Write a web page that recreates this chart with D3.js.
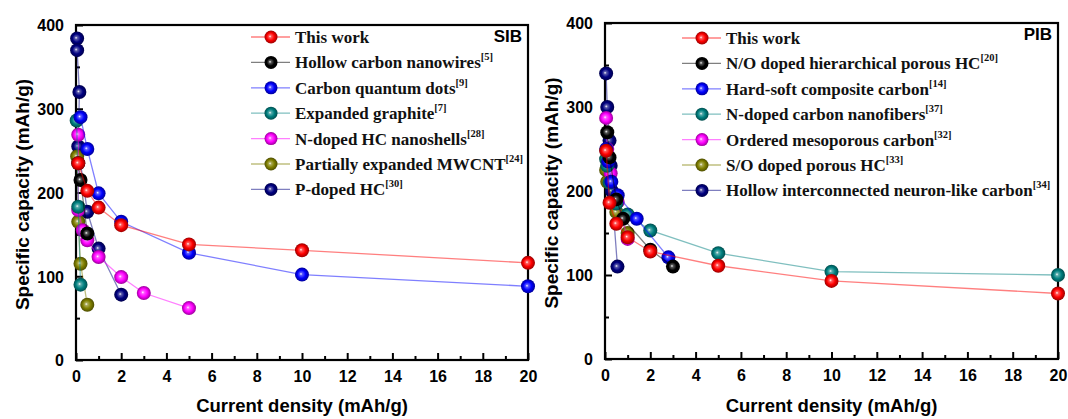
<!DOCTYPE html>
<html>
<head>
<meta charset="utf-8">
<script src="https://cdn.jsdelivr.net/npm/d3@7"></script>
<style>
  body { margin: 0; background: #fff; }
  svg { display: block; }
</style>
</head>
<body>
<div id="chart"></div>
<script>
// series colours, shared by both panels
const seriesColors = ["#ff0000", "#000000", "#0000ff", "#008080", "#ff00ff", "#808000", "#000080"];

// SIB panel
const sibNames = ["This work", "Hollow carbon nanowires", "Carbon quantum dots", "Expanded graphite",
                  "N-doped HC nanoshells", "Partially expanded MWCNT", "P-doped HC"];
const sibRefs = ["", "5", "9", "7", "28", "24", "30"];
const sibX = [
  [0.1, 0.5, 1, 2, 5, 10, 20],
  [0.1, 0.2, 0.5],
  [0.2, 0.5, 1, 2, 5, 10, 20],
  [0.03, 0.1, 0.2],
  [0.1, 0.1, 0.3, 0.5, 1, 2, 3, 5],
  [0.05, 0.1, 0.2, 0.5],
  [0.05, 0.05, 0.15, 0.1, 0.5, 1, 2]
];
const sibY = [
  [235, 202, 182, 161, 138, 131, 116],
  [235, 215, 151],
  [290, 252, 199, 165, 128, 102, 88],
  [286, 183, 90],
  [269, 179, 155, 143, 123, 99, 80, 62],
  [243, 165, 115, 66],
  [384, 370, 320, 255, 177, 133, 78]
];

// PIB panel
const pibNames = ["This work", "N/O doped hierarchical porous HC", "Hard-soft composite carbon",
                  "N-doped carbon nanofibers", "Ordered mesoporous carbon", "S/O doped porous HC",
                  "Hollow interconnected neuron-like carbon"];
const pibRefs = ["", "20", "14", "37", "32", "33", "34"];
const pibX = [
  [0.05, 0.2, 0.5, 1, 2, 5, 10, 20],
  [0.1, 0.2, 0.5, 0.8, 2, 3],
  [0.056, 0.14, 0.28, 0.56, 1.4, 2.8],
  [0.05, 0.1, 0.2, 0.5, 1, 2, 5, 10, 20],
  [0.05, 0.1, 0.25, 0.56, 1],
  [0.05, 0.1, 0.5, 1],
  [0.05, 0.1, 0.2, 0.25, 0.3, 0.55]
];
const pibY = [
  [248, 186, 161, 145, 128, 111, 93, 78],
  [270, 240, 190, 167, 130, 110],
  [250, 235, 211, 195, 167, 121],
  [238, 230, 210, 185, 172, 153, 126, 104, 100],
  [287, 250, 221, 187, 143],
  [225, 211, 175, 150],
  [340, 300, 260, 230, 200, 110]
];

const xTicks = [0, 2, 4, 6, 8, 10, 12, 14, 16, 18, 20];
const yTicks = [0, 100, 200, 300, 400];

const W = 1068, H = 419;
const svg = d3.select("#chart").append("svg").attr("width", W).attr("height", H);
const defs = svg.append("defs");

seriesColors.forEach((c, i) => {
  const g = defs.append("radialGradient").attr("id", "ball" + i)
    .attr("cx", "50%").attr("cy", "50%").attr("r", "50%")
    .attr("fx", "42%").attr("fy", "45%");
  g.append("stop").attr("offset", "0%").attr("stop-color", "#ffffff");
  g.append("stop").attr("offset", "20%").attr("stop-color", d3.interpolateRgb(c, "#ffffff")(0.35));
  g.append("stop").attr("offset", "58%").attr("stop-color", c);
  g.append("stop").attr("offset", "100%").attr("stop-color", d3.interpolateRgb(c, "#000000")(0.4));
});

const sans = "'Liberation Sans', Arial, sans-serif";
const serif = "'Liberation Serif', 'Times New Roman', serif";

function drawPanel(p) {
  const x = d3.scaleLinear().domain([0, 20]).range([p.left, p.right]);
  const y = d3.scaleLinear().domain([0, 400]).range([p.bottom, p.top]);
  const g = svg.append("g");

  // axes with inward ticks
  const xAxis = g.append("g").attr("transform", "translate(0," + p.bottom + ")")
    .call(d3.axisBottom(x).tickValues(xTicks).tickSize(-7).tickPadding(14).tickFormat(d3.format("d")));
  g.append("g").attr("transform", "translate(0," + p.bottom + ")")
    .call(d3.axisBottom(x).tickValues(d3.range(1, 20, 2)).tickSize(-4).tickFormat(""));
  const yAxis = g.append("g").attr("transform", "translate(" + p.left + ",0)")
    .call(d3.axisLeft(y).tickValues(yTicks).tickSize(-7).tickPadding(12));
  g.append("g").attr("transform", "translate(" + p.left + ",0)")
    .call(d3.axisLeft(y).tickValues([50, 150, 250, 350]).tickSize(-4).tickFormat(""));
  g.selectAll(".domain").remove();
  g.selectAll(".tick line").attr("stroke", "#000").attr("stroke-width", 2);
  g.selectAll(".tick text").attr("font-family", sans).attr("font-weight", "bold")
    .attr("font-size", 16).attr("fill", "#000");
  xAxis.selectAll(".tick text").attr("dy", "0.5em");
  yAxis.selectAll(".tick text").attr("dy", "0.36em");

  g.append("rect").attr("x", p.left).attr("y", p.top)
    .attr("width", p.right - p.left).attr("height", p.bottom - p.top)
    .attr("fill", "none").attr("stroke", "#000").attr("stroke-width", 2.2);

  // axis titles
  g.append("text").attr("x", (p.left + p.right) / 2).attr("y", 412)
    .attr("text-anchor", "middle").attr("font-family", sans).attr("font-weight", "bold")
    .attr("font-size", 18.5).text("Current density (mAh/g)");
  g.append("text")
    .attr("transform", "translate(" + (p.left - 47) + "," + ((p.top + p.bottom) / 2 + 2) + ") rotate(-90)")
    .attr("text-anchor", "middle").attr("font-family", sans).attr("font-weight", "bold")
    .attr("font-size", 19).text("Specific capacity (mAh/g)");

  g.append("text").attr("x", p.right - 6).attr("y", p.top + 17)
    .attr("text-anchor", "end").attr("font-family", sans).attr("font-weight", "bold")
    .attr("font-size", 17).text(p.tag);

  const line = d3.line().x(d => x(d[0])).y(d => y(d[1]));

  // series, drawn last to first so "This work" sits on top
  const idx = d3.range(p.names.length).reverse();
  idx.forEach(i => {
    const pts = p.xs[i].map((v, k) => [v, p.ys[i][k]]);
    const sg = g.append("g");
    sg.append("path").datum(pts).attr("d", line)
      .attr("fill", "none").attr("stroke", seriesColors[i])
      .attr("stroke-opacity", 0.5).attr("stroke-width", 1.3);
    sg.selectAll("circle").data(pts).enter().append("circle")
      .attr("cx", d => x(d[0])).attr("cy", d => y(d[1])).attr("r", 7)
      .attr("fill", "url(#ball" + i + ")");
  });

  // legend
  const lg = g.append("g");
  p.names.forEach((name, i) => {
    const ly = p.legendTop + i * 25.4;
    lg.append("line").attr("x1", p.legendX).attr("x2", p.legendX + 39)
      .attr("y1", ly).attr("y2", ly)
      .attr("stroke", seriesColors[i]).attr("stroke-opacity", 0.5).attr("stroke-width", 1.3);
    lg.append("circle").attr("cx", p.legendX + 20).attr("cy", ly).attr("r", 6.5)
      .attr("fill", "url(#ball" + i + ")");
    const t = lg.append("text").attr("x", p.legendX + 44).attr("y", ly + 6)
      .attr("font-family", serif).attr("font-weight", "bold").attr("font-size", 17)
      .attr("fill", "#111").text(name);
    if (p.refs[i]) {
      t.append("tspan").attr("dy", -8).attr("font-size", 10.5).text("[" + p.refs[i] + "]");
    }
  });
}

drawPanel({
  left: 76, right: 528, top: 25, bottom: 360, tag: "SIB",
  names: sibNames, refs: sibRefs, xs: sibX, ys: sibY,
  legendX: 251, legendTop: 37
});
drawPanel({
  left: 605, right: 1058, top: 23, bottom: 359, tag: "PIB",
  names: pibNames, refs: pibRefs, xs: pibX, ys: pibY,
  legendX: 682, legendTop: 38
});
</script>
</body>
</html>
